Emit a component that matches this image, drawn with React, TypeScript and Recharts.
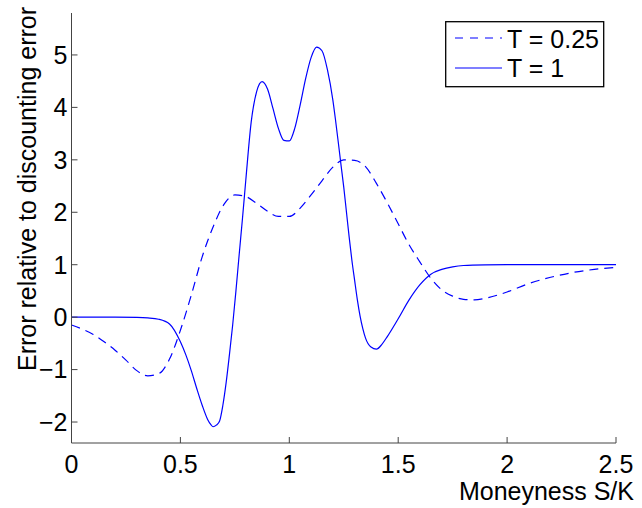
import { Legend, Line, LineChart, XAxis, YAxis } from "recharts"

// T = 1 (solid)
const xT1 = [
  0, 0.1, 0.2, 0.3, 0.35, 0.4, 0.45, 0.5, 0.525, 0.55, 0.575, 0.6, 0.625, 0.64, 0.65, 0.665, 0.68,
  0.695, 0.71, 0.725, 0.74, 0.755, 0.77, 0.785, 0.8, 0.825, 0.85, 0.875, 0.9, 0.925, 0.95, 0.975,
  1.0, 1.025, 1.05, 1.075, 1.1, 1.125, 1.15, 1.175, 1.2, 1.2125, 1.225, 1.2375, 1.25, 1.2625, 1.275,
  1.2875, 1.3, 1.3125, 1.325, 1.3375, 1.35, 1.375, 1.4, 1.425, 1.45, 1.5, 1.55, 1.6, 1.65, 1.7,
  1.75, 1.8, 1.9, 2.0, 2.25, 2.5,
]
const yT1 = [
  0, 0, 0, -0.005, -0.015, -0.04, -0.13, -0.47, -0.72, -1.02, -1.36, -1.68, -1.95, -2.05, -2.09,
  -2.06, -1.98, -1.68, -1.25, -0.72, -0.15, 0.5, 1.2, 1.88, 2.6, 3.72, 4.3, 4.49, 4.35, 3.98, 3.6,
  3.37, 3.36, 3.6, 4.05, 4.55, 4.95, 5.15, 5.08, 4.72, 4.14, 3.75, 3.33, 2.9, 2.48, 2.0, 1.52, 1.08,
  0.7, 0.33, 0.02, -0.22, -0.4, -0.57, -0.61, -0.52, -0.37, -0.03, 0.33, 0.62, 0.82, 0.91, 0.96,
  0.985, 0.997, 1.0, 1.0, 1.0,
]

// T = 0.25 (dashed)
const xT025 = [
  0, 0.05, 0.1, 0.15, 0.2, 0.25, 0.3, 0.35, 0.4, 0.45, 0.5, 0.55, 0.6, 0.65, 0.7, 0.75, 0.8, 0.85,
  0.9, 0.95, 1.0, 1.05, 1.1, 1.15, 1.2, 1.25, 1.3, 1.35, 1.4, 1.45, 1.5, 1.55, 1.6, 1.65, 1.7, 1.75,
  1.8, 1.85, 1.9, 2.0, 2.1, 2.2, 2.3, 2.4, 2.5,
]
const yT025 = [
  -0.15, -0.23, -0.33, -0.47, -0.63, -0.82, -1.02, -1.12, -1.08, -0.8, -0.25, 0.42, 1.15, 1.72, 2.15,
  2.33, 2.3, 2.17, 2.02, 1.92, 1.92, 2.08, 2.33, 2.6, 2.86, 3.0, 2.99, 2.87, 2.55, 2.18, 1.78, 1.38,
  1.05, 0.74, 0.52, 0.4, 0.34, 0.33, 0.36, 0.48, 0.64, 0.76, 0.85, 0.91, 0.95,
]

const xTicks = [0, 0.5, 1, 1.5, 2, 2.5]
const yTicks = [-2, -1, 0, 1, 2, 3, 4, 5]

const seriesNames = ["T = 0.25", "T = 1"]

const font = '"Liberation Sans", Arial, Helvetica, sans-serif'
const fs = 25
const blue = "#0000ff"
const dash = "9 6"

const t1 = xT1.map((x, i) => ({ x, y: yT1[i] }))
const t025 = xT025.map((x, i) => ({ x, y: yT025[i] }))

const fmt = (v: number) => String(v).replace("-", "\u2212")

function LegendBox() {
  return (
    <svg width={160} height={67} style={{ display: "block" }}>
      <rect x={0.7} y={0.7} width={158} height={65} fill="#fff" stroke="#000" strokeWidth={1.3} />
      <line x1={10} x2={57} y1={17} y2={17} stroke={blue} strokeWidth={1.2} strokeDasharray="8 7" />
      <text x={62} y={26.5} fontSize={fs} fontFamily={font} fill="#000">
        {seriesNames[0]}
      </text>
      <line x1={10} x2={57} y1={47} y2={47} stroke={blue} strokeWidth={1.2} />
      <text x={62} y={55.5} fontSize={fs} fontFamily={font} fill="#000">
        {seriesNames[1]}
      </text>
    </svg>
  )
}

const xLabel = () => (
  <text x={634} y={500} textAnchor="end" fontSize={fs} fontFamily={font} fill="#000">
    Moneyness S/K
  </text>
)

const yLabel = () => (
  <text
    x={36}
    y={189}
    transform="rotate(-90 36 189)"
    textAnchor="middle"
    fontSize={fs}
    fontFamily={font}
    fill="#000"
  >
    Error relative to discounting error
  </text>
)

export default function App() {
  return (
    <div style={{ position: "absolute", left: 0, top: 0, background: "#fff" }}>
      <LineChart width={642} height={508} margin={{ top: 13, right: 26, bottom: 35, left: 0 }}>
        <XAxis
          type="number"
          dataKey="x"
          domain={[0, 2.5]}
          ticks={xTicks}
          allowDataOverflow
          height={30}
          stroke="#444"
          tickSize={-6}
          tickMargin={18}
          tick={{ fill: "#000", fontSize: fs, fontFamily: font }}
          tickFormatter={fmt}
          label={xLabel}
        />
        <YAxis
          type="number"
          dataKey="y"
          domain={[-2.4, 5.8]}
          ticks={yTicks}
          allowDataOverflow
          width={71.5}
          stroke="#444"
          tickSize={-6}
          tickMargin={10}
          tick={{ fill: "#000", fontSize: fs, fontFamily: font }}
          tickFormatter={fmt}
          label={yLabel}
        />
        <Line
          data={t025}
          dataKey="y"
          name={seriesNames[0]}
          type="monotone"
          stroke={blue}
          strokeWidth={1.2}
          strokeDasharray={dash}
          dot={false}
          isAnimationActive={false}
        />
        <Line
          data={t1}
          dataKey="y"
          name={seriesNames[1]}
          type="monotone"
          stroke={blue}
          strokeWidth={1.2}
          dot={false}
          isAnimationActive={false}
        />
        <Legend
          layout="vertical"
          align="center"
          verticalAlign="middle"
          content={<LegendBox />}
          wrapperStyle={{ position: "absolute", left: 445, top: 21, width: 160, height: 67 }}
        />
      </LineChart>
    </div>
  )
}
